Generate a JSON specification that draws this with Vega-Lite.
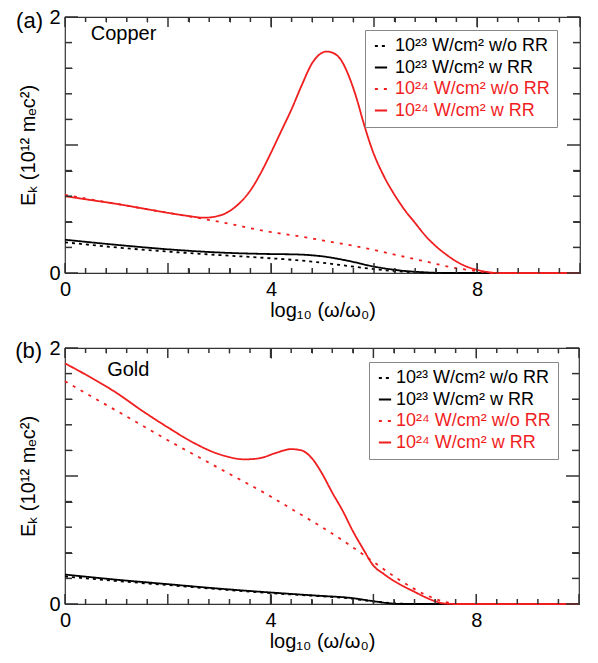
{
  "$schema": "https://vega.github.io/schema/vega-lite/v6.json",
  "background": "white",
  "padding": {"left": 14, "top": 6, "right": 5, "bottom": 5},
  "spacing": 16,
  "config": {
    "font": "Liberation Sans",
    "view": {"stroke": "#333", "strokeWidth": 1.2},
    "axis": {"domain": false, "labelFontSize": 20, "titleFontSize": 20, "titleFontWeight": "normal", "labelColor": "black", "titleColor": "black", "labelFont": "Liberation Sans", "titleFont": "Liberation Sans", "labelFlush": false, "labelOverlap": false, "gridColor": "#333", "gridOpacity": 1, "gridWidth": 1},
    "text": {"font": "Liberation Sans"},
    "legend": {"orient": "none", "title": null, "strokeColor": "#888", "fillColor": "white", "padding": 7, "symbolType": "stroke", "symbolSize": 150, "symbolStrokeWidth": 2, "labelFontSize": 18, "labelFont": "Liberation Sans", "rowPadding": 3.5, "labelLimit": 300}
  },
  "resolve": {"legend": {"color": "independent", "strokeDash": "independent"}},
  "datasets": {
    "xmaj": [{"v": 0}, {"v": 2}, {"v": 4}, {"v": 6}, {"v": 8}, {"v": 10}],
    "xmin": [{"v": 0.4}, {"v": 0.8}, {"v": 1.2}, {"v": 1.6}, {"v": 2.4}, {"v": 2.8}, {"v": 3.2}, {"v": 3.6}, {"v": 4.4}, {"v": 4.8}, {"v": 5.2}, {"v": 5.6}, {"v": 6.4}, {"v": 6.8}, {"v": 7.2}, {"v": 7.6}, {"v": 8.4}, {"v": 8.8}, {"v": 9.2}, {"v": 9.6}],
    "ymaj": [{"v": 0}, {"v": 1}, {"v": 2}],
    "ymin": [{"v": 0.2}, {"v": 0.4}, {"v": 0.6}, {"v": 0.8}, {"v": 1.2}, {"v": 1.4}, {"v": 1.6}, {"v": 1.8}],
    "copper": [
      {"s": "10²³ W/cm² w/o RR", "x": 0, "y": 0.24},
      {"s": "10²³ W/cm² w/o RR", "x": 1, "y": 0.2},
      {"s": "10²³ W/cm² w/o RR", "x": 2, "y": 0.167},
      {"s": "10²³ W/cm² w/o RR", "x": 3, "y": 0.14},
      {"s": "10²³ W/cm² w/o RR", "x": 4, "y": 0.115},
      {"s": "10²³ W/cm² w/o RR", "x": 4.5, "y": 0.1},
      {"s": "10²³ W/cm² w/o RR", "x": 5, "y": 0.08},
      {"s": "10²³ W/cm² w/o RR", "x": 5.5, "y": 0.055},
      {"s": "10²³ W/cm² w/o RR", "x": 6, "y": 0.03},
      {"s": "10²³ W/cm² w/o RR", "x": 6.5, "y": 0.012},
      {"s": "10²³ W/cm² w/o RR", "x": 7, "y": 0.002},
      {"s": "10²³ W/cm² w/o RR", "x": 7.2, "y": 0},
      {"s": "10²³ W/cm² w/o RR", "x": 10, "y": 0},
      {"s": "10²³ W/cm² w RR", "x": 0, "y": 0.26},
      {"s": "10²³ W/cm² w RR", "x": 1, "y": 0.22},
      {"s": "10²³ W/cm² w RR", "x": 2, "y": 0.185},
      {"s": "10²³ W/cm² w RR", "x": 3, "y": 0.16},
      {"s": "10²³ W/cm² w RR", "x": 4, "y": 0.148},
      {"s": "10²³ W/cm² w RR", "x": 4.5, "y": 0.145},
      {"s": "10²³ W/cm² w RR", "x": 5, "y": 0.13},
      {"s": "10²³ W/cm² w RR", "x": 5.5, "y": 0.095},
      {"s": "10²³ W/cm² w RR", "x": 6, "y": 0.05},
      {"s": "10²³ W/cm² w RR", "x": 6.5, "y": 0.02},
      {"s": "10²³ W/cm² w RR", "x": 7, "y": 0.005},
      {"s": "10²³ W/cm² w RR", "x": 7.4, "y": 0},
      {"s": "10²³ W/cm² w RR", "x": 10, "y": 0},
      {"s": "10²⁴ W/cm² w/o RR", "x": 0, "y": 0.61},
      {"s": "10²⁴ W/cm² w/o RR", "x": 1, "y": 0.54},
      {"s": "10²⁴ W/cm² w/o RR", "x": 2, "y": 0.47},
      {"s": "10²⁴ W/cm² w/o RR", "x": 3, "y": 0.4},
      {"s": "10²⁴ W/cm² w/o RR", "x": 4, "y": 0.32},
      {"s": "10²⁴ W/cm² w/o RR", "x": 4.5, "y": 0.29},
      {"s": "10²⁴ W/cm² w/o RR", "x": 5, "y": 0.255},
      {"s": "10²⁴ W/cm² w/o RR", "x": 5.5, "y": 0.22},
      {"s": "10²⁴ W/cm² w/o RR", "x": 6, "y": 0.18},
      {"s": "10²⁴ W/cm² w/o RR", "x": 6.5, "y": 0.135},
      {"s": "10²⁴ W/cm² w/o RR", "x": 7, "y": 0.09},
      {"s": "10²⁴ W/cm² w/o RR", "x": 7.5, "y": 0.045},
      {"s": "10²⁴ W/cm² w/o RR", "x": 8, "y": 0.015},
      {"s": "10²⁴ W/cm² w/o RR", "x": 8.3, "y": 0},
      {"s": "10²⁴ W/cm² w/o RR", "x": 10, "y": 0},
      {"s": "10²⁴ W/cm² w RR", "x": 0, "y": 0.6},
      {"s": "10²⁴ W/cm² w RR", "x": 0.5, "y": 0.57},
      {"s": "10²⁴ W/cm² w RR", "x": 1, "y": 0.54},
      {"s": "10²⁴ W/cm² w RR", "x": 1.5, "y": 0.505},
      {"s": "10²⁴ W/cm² w RR", "x": 2, "y": 0.47},
      {"s": "10²⁴ W/cm² w RR", "x": 2.4, "y": 0.445},
      {"s": "10²⁴ W/cm² w RR", "x": 2.7, "y": 0.432},
      {"s": "10²⁴ W/cm² w RR", "x": 3, "y": 0.448},
      {"s": "10²⁴ W/cm² w RR", "x": 3.2, "y": 0.485},
      {"s": "10²⁴ W/cm² w RR", "x": 3.4, "y": 0.55},
      {"s": "10²⁴ W/cm² w RR", "x": 3.6, "y": 0.645},
      {"s": "10²⁴ W/cm² w RR", "x": 3.8, "y": 0.78},
      {"s": "10²⁴ W/cm² w RR", "x": 4, "y": 0.94},
      {"s": "10²⁴ W/cm² w RR", "x": 4.2, "y": 1.11},
      {"s": "10²⁴ W/cm² w RR", "x": 4.4, "y": 1.28},
      {"s": "10²⁴ W/cm² w RR", "x": 4.6, "y": 1.47},
      {"s": "10²⁴ W/cm² w RR", "x": 4.8, "y": 1.64},
      {"s": "10²⁴ W/cm² w RR", "x": 4.95, "y": 1.71},
      {"s": "10²⁴ W/cm² w RR", "x": 5.08, "y": 1.73},
      {"s": "10²⁴ W/cm² w RR", "x": 5.2, "y": 1.72},
      {"s": "10²⁴ W/cm² w RR", "x": 5.35, "y": 1.67},
      {"s": "10²⁴ W/cm² w RR", "x": 5.5, "y": 1.55},
      {"s": "10²⁴ W/cm² w RR", "x": 5.65, "y": 1.38},
      {"s": "10²⁴ W/cm² w RR", "x": 5.8, "y": 1.17},
      {"s": "10²⁴ W/cm² w RR", "x": 5.95, "y": 0.98},
      {"s": "10²⁴ W/cm² w RR", "x": 6.2, "y": 0.75},
      {"s": "10²⁴ W/cm² w RR", "x": 6.4, "y": 0.61},
      {"s": "10²⁴ W/cm² w RR", "x": 6.6, "y": 0.49},
      {"s": "10²⁴ W/cm² w RR", "x": 6.8, "y": 0.39},
      {"s": "10²⁴ W/cm² w RR", "x": 7, "y": 0.29},
      {"s": "10²⁴ W/cm² w RR", "x": 7.2, "y": 0.21},
      {"s": "10²⁴ W/cm² w RR", "x": 7.4, "y": 0.145},
      {"s": "10²⁴ W/cm² w RR", "x": 7.6, "y": 0.09},
      {"s": "10²⁴ W/cm² w RR", "x": 7.8, "y": 0.05},
      {"s": "10²⁴ W/cm² w RR", "x": 8, "y": 0.025},
      {"s": "10²⁴ W/cm² w RR", "x": 8.2, "y": 0.008},
      {"s": "10²⁴ W/cm² w RR", "x": 8.4, "y": 0},
      {"s": "10²⁴ W/cm² w RR", "x": 10, "y": 0}
    ],
    "gold": [
      {"s": "10²³ W/cm² w/o RR", "x": 0, "y": 0.215},
      {"s": "10²³ W/cm² w/o RR", "x": 1, "y": 0.18},
      {"s": "10²³ W/cm² w/o RR", "x": 2, "y": 0.148},
      {"s": "10²³ W/cm² w/o RR", "x": 3, "y": 0.115},
      {"s": "10²³ W/cm² w/o RR", "x": 4, "y": 0.085},
      {"s": "10²³ W/cm² w/o RR", "x": 5, "y": 0.06},
      {"s": "10²³ W/cm² w/o RR", "x": 5.5, "y": 0.045},
      {"s": "10²³ W/cm² w/o RR", "x": 6, "y": 0.02},
      {"s": "10²³ W/cm² w/o RR", "x": 6.5, "y": 0.004},
      {"s": "10²³ W/cm² w/o RR", "x": 6.7, "y": 0},
      {"s": "10²³ W/cm² w/o RR", "x": 10, "y": 0},
      {"s": "10²³ W/cm² w RR", "x": 0, "y": 0.23},
      {"s": "10²³ W/cm² w RR", "x": 1, "y": 0.19},
      {"s": "10²³ W/cm² w RR", "x": 2, "y": 0.155},
      {"s": "10²³ W/cm² w RR", "x": 3, "y": 0.12},
      {"s": "10²³ W/cm² w RR", "x": 4, "y": 0.09},
      {"s": "10²³ W/cm² w RR", "x": 4.5, "y": 0.076},
      {"s": "10²³ W/cm² w RR", "x": 5, "y": 0.063},
      {"s": "10²³ W/cm² w RR", "x": 5.5, "y": 0.05},
      {"s": "10²³ W/cm² w RR", "x": 6, "y": 0.022},
      {"s": "10²³ W/cm² w RR", "x": 6.3, "y": 0.006},
      {"s": "10²³ W/cm² w RR", "x": 6.6, "y": 0},
      {"s": "10²³ W/cm² w RR", "x": 10, "y": 0},
      {"s": "10²⁴ W/cm² w/o RR", "x": 0, "y": 1.74},
      {"s": "10²⁴ W/cm² w/o RR", "x": 1, "y": 1.51},
      {"s": "10²⁴ W/cm² w/o RR", "x": 2, "y": 1.28},
      {"s": "10²⁴ W/cm² w/o RR", "x": 3, "y": 1.06},
      {"s": "10²⁴ W/cm² w/o RR", "x": 4, "y": 0.84},
      {"s": "10²⁴ W/cm² w/o RR", "x": 4.5, "y": 0.72},
      {"s": "10²⁴ W/cm² w/o RR", "x": 5, "y": 0.6},
      {"s": "10²⁴ W/cm² w/o RR", "x": 5.5, "y": 0.47},
      {"s": "10²⁴ W/cm² w/o RR", "x": 6, "y": 0.33},
      {"s": "10²⁴ W/cm² w/o RR", "x": 6.5, "y": 0.19},
      {"s": "10²⁴ W/cm² w/o RR", "x": 7, "y": 0.075},
      {"s": "10²⁴ W/cm² w/o RR", "x": 7.4, "y": 0.015},
      {"s": "10²⁴ W/cm² w/o RR", "x": 7.7, "y": 0},
      {"s": "10²⁴ W/cm² w/o RR", "x": 10, "y": 0},
      {"s": "10²⁴ W/cm² w RR", "x": 0, "y": 1.88},
      {"s": "10²⁴ W/cm² w RR", "x": 0.5, "y": 1.77},
      {"s": "10²⁴ W/cm² w RR", "x": 1, "y": 1.65},
      {"s": "10²⁴ W/cm² w RR", "x": 1.5, "y": 1.51},
      {"s": "10²⁴ W/cm² w RR", "x": 2, "y": 1.38},
      {"s": "10²⁴ W/cm² w RR", "x": 2.5, "y": 1.26},
      {"s": "10²⁴ W/cm² w RR", "x": 3, "y": 1.17},
      {"s": "10²⁴ W/cm² w RR", "x": 3.5, "y": 1.13},
      {"s": "10²⁴ W/cm² w RR", "x": 3.8, "y": 1.14},
      {"s": "10²⁴ W/cm² w RR", "x": 4.1, "y": 1.18},
      {"s": "10²⁴ W/cm² w RR", "x": 4.4, "y": 1.21},
      {"s": "10²⁴ W/cm² w RR", "x": 4.6, "y": 1.2},
      {"s": "10²⁴ W/cm² w RR", "x": 4.8, "y": 1.14},
      {"s": "10²⁴ W/cm² w RR", "x": 5, "y": 1.02},
      {"s": "10²⁴ W/cm² w RR", "x": 5.2, "y": 0.87},
      {"s": "10²⁴ W/cm² w RR", "x": 5.4, "y": 0.73},
      {"s": "10²⁴ W/cm² w RR", "x": 5.6, "y": 0.57},
      {"s": "10²⁴ W/cm² w RR", "x": 5.8, "y": 0.43},
      {"s": "10²⁴ W/cm² w RR", "x": 6, "y": 0.3},
      {"s": "10²⁴ W/cm² w RR", "x": 6.2, "y": 0.235},
      {"s": "10²⁴ W/cm² w RR", "x": 6.4, "y": 0.18},
      {"s": "10²⁴ W/cm² w RR", "x": 6.6, "y": 0.135},
      {"s": "10²⁴ W/cm² w RR", "x": 6.8, "y": 0.095},
      {"s": "10²⁴ W/cm² w RR", "x": 7, "y": 0.055},
      {"s": "10²⁴ W/cm² w RR", "x": 7.2, "y": 0.022},
      {"s": "10²⁴ W/cm² w RR", "x": 7.4, "y": 0.003},
      {"s": "10²⁴ W/cm² w RR", "x": 7.6, "y": 0},
      {"s": "10²⁴ W/cm² w RR", "x": 10, "y": 0}
    ]
  },
  "vconcat": [
    {
      "width": 515,
      "height": 256,
      "layer": [
        {
          "data": {"name": "copper"},
          "mark": {"type": "line", "strokeWidth": 1.8, "interpolate": "monotone"},
          "encoding": {
            "x": {"field": "x", "type": "quantitative", "scale": {"domain": [0, 10], "nice": false, "zero": false},
              "axis": {"orient": "bottom", "title": "log₁₀ (ω/ω₀)", "values": [0,0.4,0.8,1.2,1.6,2,2.4,2.8,3.2,3.6,4,4.4,4.8,5.2,5.6,6,6.4,6.8,7.2,7.6,8,8.4,8.8,9.2,9.6,10],
                "labelExpr": "datum.value % 2 === 0 ? format(datum.value, 'd') : ''",
                "tickSize": 0, "labelPadding": 6, "titlePadding": 1, "grid": true,
                "gridDash": {"condition": {"test": "datum.value % 2 === 0", "value": [10, 236, 10]}, "value": [5, 246, 5]}}},
            "y": {"field": "y", "type": "quantitative", "scale": {"domain": [0, 2], "nice": false},
              "axis": {"orient": "left", "title": "Eₖ (10¹² mₑc²)", "values": [0,0.2,0.4,0.6,0.8,1,1.2,1.4,1.6,1.8,2],
                "labelExpr": "datum.value % 1 === 0 ? format(datum.value, 'd') : ''",
                "tickSize": 0, "labelPadding": 5, "titlePadding": 10, "grid": true,
                "gridDash": {"condition": {"test": "datum.value % 1 === 0", "value": [13, 489, 13]}, "value": [7, 501, 7]}}},
            "color": {"field": "s", "type": "nominal",
              "scale": {"domain": ["10²³ W/cm² w/o RR", "10²³ W/cm² w RR", "10²⁴ W/cm² w/o RR", "10²⁴ W/cm² w RR"], "range": ["black", "black", "#f01e1e", "#f01e1e"]},
              "legend": {"legendX": 300, "legendY": 13, "labelOffset": 5,
                "encode": {"labels": {"update": {"fill": {"signal": "indexof(datum.label, '²⁴') >= 0 ? '#f01e1e' : 'black'"}}}}}},
            "strokeDash": {"field": "s", "type": "nominal",
              "scale": {"domain": ["10²³ W/cm² w/o RR", "10²³ W/cm² w RR", "10²⁴ W/cm² w/o RR", "10²⁴ W/cm² w RR"], "range": [[3, 4], [1, 0], [3, 6], [1, 0]]},
              "legend": {"legendX": 300, "legendY": 13, "labelOffset": 5,
                "encode": {"labels": {"update": {"fill": {"signal": "indexof(datum.label, '²⁴') >= 0 ? '#f01e1e' : 'black'"}}}}}}
          }
        },
        {"data": {"name": "xmaj"}, "mark": {"type": "tick", "orient": "vertical", "size": 10, "yOffset": -5, "thickness": 1.5, "color": "#333", "opacity": 1},
          "encoding": {"x": {"field": "v", "type": "quantitative"}, "y": {"datum": 0}}},
        {"data": {"name": "xmaj"}, "mark": {"type": "tick", "orient": "vertical", "size": 10, "yOffset": 5, "thickness": 1.5, "color": "#333", "opacity": 1},
          "encoding": {"x": {"field": "v", "type": "quantitative"}, "y": {"datum": 2}}},
        {"data": {"name": "xmin"}, "mark": {"type": "tick", "orient": "vertical", "size": 5, "yOffset": -2.5, "thickness": 1.5, "color": "#333", "opacity": 1},
          "encoding": {"x": {"field": "v", "type": "quantitative"}, "y": {"datum": 0}}},
        {"data": {"name": "xmin"}, "mark": {"type": "tick", "orient": "vertical", "size": 5, "yOffset": 2.5, "thickness": 1.5, "color": "#333", "opacity": 1},
          "encoding": {"x": {"field": "v", "type": "quantitative"}, "y": {"datum": 2}}},
        {"data": {"name": "ymaj"}, "mark": {"type": "tick", "orient": "horizontal", "size": 13, "xOffset": 6.5, "thickness": 1.5, "color": "#333", "opacity": 1},
          "encoding": {"y": {"field": "v", "type": "quantitative"}, "x": {"datum": 0}}},
        {"data": {"name": "ymaj"}, "mark": {"type": "tick", "orient": "horizontal", "size": 13, "xOffset": -6.5, "thickness": 1.5, "color": "#333", "opacity": 1},
          "encoding": {"y": {"field": "v", "type": "quantitative"}, "x": {"datum": 10}}},
        {"data": {"name": "ymin"}, "mark": {"type": "tick", "orient": "horizontal", "size": 7, "xOffset": 3.5, "thickness": 1.5, "color": "#333", "opacity": 1},
          "encoding": {"y": {"field": "v", "type": "quantitative"}, "x": {"datum": 0}}},
        {"data": {"name": "ymin"}, "mark": {"type": "tick", "orient": "horizontal", "size": 7, "xOffset": -3.5, "thickness": 1.5, "color": "#333", "opacity": 1},
          "encoding": {"y": {"field": "v", "type": "quantitative"}, "x": {"datum": 10}}},
        {
          "data": {"values": [{"x": -0.95, "y": 1.97, "t": "(a)"}]},
          "mark": {"type": "text", "align": "left", "baseline": "middle", "fontSize": 22, "color": "black"},
          "encoding": {
            "x": {"field": "x", "type": "quantitative"},
            "y": {"field": "y", "type": "quantitative"},
            "text": {"field": "t", "type": "nominal"}
          }
        },
        {
          "data": {"values": [{"x": 0.5, "y": 1.87, "t": "Copper"}]},
          "mark": {"type": "text", "align": "left", "baseline": "middle", "fontSize": 20, "color": "black"},
          "encoding": {
            "x": {"field": "x", "type": "quantitative"},
            "y": {"field": "y", "type": "quantitative"},
            "text": {"field": "t", "type": "nominal"}
          }
        }
      ]
    },
    {
      "width": 514,
      "height": 256,
      "layer": [
        {
          "data": {"name": "gold"},
          "mark": {"type": "line", "strokeWidth": 1.8, "interpolate": "monotone"},
          "encoding": {
            "x": {"field": "x", "type": "quantitative", "scale": {"domain": [0, 10], "nice": false, "zero": false},
              "axis": {"orient": "bottom", "title": "log₁₀ (ω/ω₀)", "values": [0,0.4,0.8,1.2,1.6,2,2.4,2.8,3.2,3.6,4,4.4,4.8,5.2,5.6,6,6.4,6.8,7.2,7.6,8,8.4,8.8,9.2,9.6,10],
                "labelExpr": "datum.value % 2 === 0 ? format(datum.value, 'd') : ''",
                "tickSize": 0, "labelPadding": 6, "titlePadding": 1, "grid": true,
                "gridDash": {"condition": {"test": "datum.value % 2 === 0", "value": [10, 236, 10]}, "value": [5, 246, 5]}}},
            "y": {"field": "y", "type": "quantitative", "scale": {"domain": [0, 2], "nice": false},
              "axis": {"orient": "left", "title": "Eₖ (10¹² mₑc²)", "values": [0,0.2,0.4,0.6,0.8,1,1.2,1.4,1.6,1.8,2],
                "labelExpr": "datum.value % 1 === 0 ? format(datum.value, 'd') : ''",
                "tickSize": 0, "labelPadding": 5, "titlePadding": 10, "grid": true,
                "gridDash": {"condition": {"test": "datum.value % 1 === 0", "value": [13, 488, 13]}, "value": [7, 500, 7]}}},
            "color": {"field": "s", "type": "nominal",
              "scale": {"domain": ["10²³ W/cm² w/o RR", "10²³ W/cm² w RR", "10²⁴ W/cm² w/o RR", "10²⁴ W/cm² w RR"], "range": ["black", "black", "#f01e1e", "#f01e1e"]},
              "legend": {"legendX": 304, "legendY": 14, "labelOffset": 2,
                "encode": {"labels": {"update": {"fill": {"signal": "indexof(datum.label, '²⁴') >= 0 ? '#f01e1e' : 'black'"}}}}}},
            "strokeDash": {"field": "s", "type": "nominal",
              "scale": {"domain": ["10²³ W/cm² w/o RR", "10²³ W/cm² w RR", "10²⁴ W/cm² w/o RR", "10²⁴ W/cm² w RR"], "range": [[3, 4], [1, 0], [3, 6], [1, 0]]},
              "legend": {"legendX": 304, "legendY": 14, "labelOffset": 2,
                "encode": {"labels": {"update": {"fill": {"signal": "indexof(datum.label, '²⁴') >= 0 ? '#f01e1e' : 'black'"}}}}}}
          }
        },
        {"data": {"name": "xmaj"}, "mark": {"type": "tick", "orient": "vertical", "size": 10, "yOffset": -5, "thickness": 1.5, "color": "#333", "opacity": 1},
          "encoding": {"x": {"field": "v", "type": "quantitative"}, "y": {"datum": 0}}},
        {"data": {"name": "xmaj"}, "mark": {"type": "tick", "orient": "vertical", "size": 10, "yOffset": 5, "thickness": 1.5, "color": "#333", "opacity": 1},
          "encoding": {"x": {"field": "v", "type": "quantitative"}, "y": {"datum": 2}}},
        {"data": {"name": "xmin"}, "mark": {"type": "tick", "orient": "vertical", "size": 5, "yOffset": -2.5, "thickness": 1.5, "color": "#333", "opacity": 1},
          "encoding": {"x": {"field": "v", "type": "quantitative"}, "y": {"datum": 0}}},
        {"data": {"name": "xmin"}, "mark": {"type": "tick", "orient": "vertical", "size": 5, "yOffset": 2.5, "thickness": 1.5, "color": "#333", "opacity": 1},
          "encoding": {"x": {"field": "v", "type": "quantitative"}, "y": {"datum": 2}}},
        {"data": {"name": "ymaj"}, "mark": {"type": "tick", "orient": "horizontal", "size": 13, "xOffset": 6.5, "thickness": 1.5, "color": "#333", "opacity": 1},
          "encoding": {"y": {"field": "v", "type": "quantitative"}, "x": {"datum": 0}}},
        {"data": {"name": "ymaj"}, "mark": {"type": "tick", "orient": "horizontal", "size": 13, "xOffset": -6.5, "thickness": 1.5, "color": "#333", "opacity": 1},
          "encoding": {"y": {"field": "v", "type": "quantitative"}, "x": {"datum": 10}}},
        {"data": {"name": "ymin"}, "mark": {"type": "tick", "orient": "horizontal", "size": 7, "xOffset": 3.5, "thickness": 1.5, "color": "#333", "opacity": 1},
          "encoding": {"y": {"field": "v", "type": "quantitative"}, "x": {"datum": 0}}},
        {"data": {"name": "ymin"}, "mark": {"type": "tick", "orient": "horizontal", "size": 7, "xOffset": -3.5, "thickness": 1.5, "color": "#333", "opacity": 1},
          "encoding": {"y": {"field": "v", "type": "quantitative"}, "x": {"datum": 10}}},
        {
          "data": {"values": [{"x": -0.97, "y": 1.98, "t": "(b)"}]},
          "mark": {"type": "text", "align": "left", "baseline": "middle", "fontSize": 22, "color": "black"},
          "encoding": {
            "x": {"field": "x", "type": "quantitative"},
            "y": {"field": "y", "type": "quantitative"},
            "text": {"field": "t", "type": "nominal"}
          }
        },
        {
          "data": {"values": [{"x": 0.82, "y": 1.83, "t": "Gold"}]},
          "mark": {"type": "text", "align": "left", "baseline": "middle", "fontSize": 20, "color": "black"},
          "encoding": {
            "x": {"field": "x", "type": "quantitative"},
            "y": {"field": "y", "type": "quantitative"},
            "text": {"field": "t", "type": "nominal"}
          }
        }
      ]
    }
  ]
}
